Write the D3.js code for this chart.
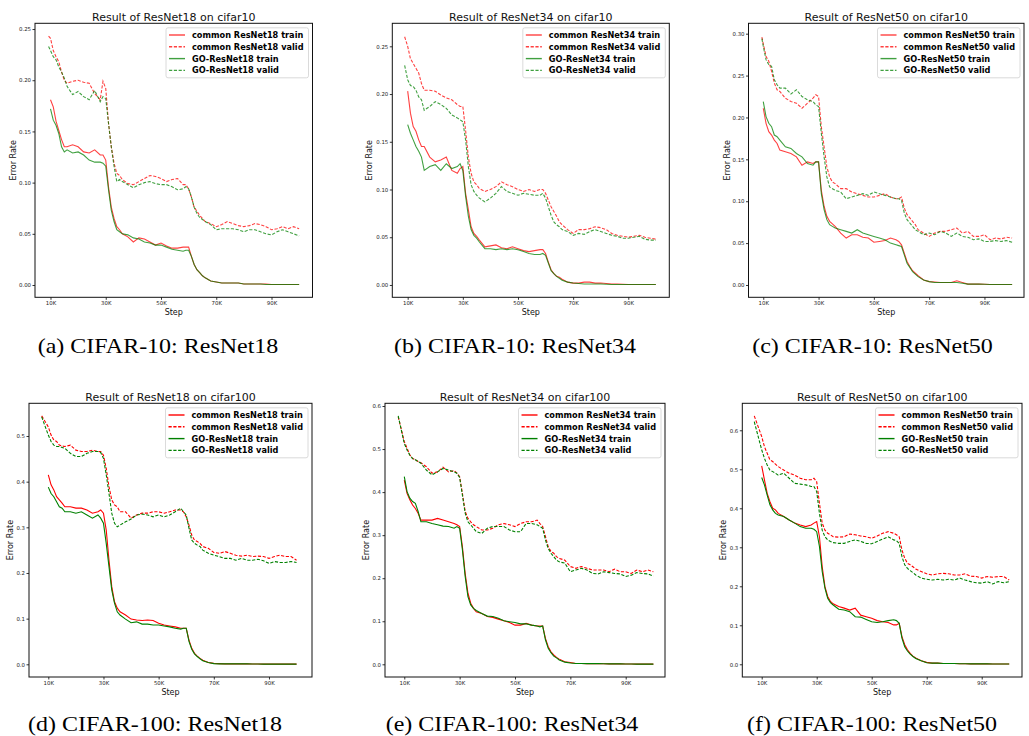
<!DOCTYPE html>
<html><head><meta charset="utf-8">
<script src="https://cdn.jsdelivr.net/npm/d3@7"></script>
<style>body{margin:0;background:#fff}svg{display:block}</style>
</head><body>
<svg id="chart" width="1029" height="736"></svg>
<script>
// ---------- data ----------
const STEPS = [10,11,12,13,14,15,16, 18,20,22,24,26,28, 29,30, 31,32,33,34,35,36,
  38,40,42,44,46,48,50,52,54,56,58, 59,60, 61,62,63,64,65,66,
  68,70,72,74,76,78,80,82,84,86,88,90,92,94,96,98,100];           // thousands of steps
const VALID_START = [9.3, 8.9, 9.5, 7.6, 7.8, 7.3];                  // first validation step (K)
const X_TICKS = [10,30,50,70,90];
const X_TICK_LABELS = ["10K","30K","50K","70K","90K"];
const MODELS = ["ResNet18","ResNet34","ResNet50","ResNet18","ResNet34","ResNet50"];
const DATASETS = ["cifar10","cifar10","cifar10","cifar100","cifar100","cifar100"];
const CAPTIONS = ["(a) CIFAR-10: ResNet18","(b) CIFAR-10: ResNet34","(c) CIFAR-10: ResNet50",
  "(d) CIFAR-100: ResNet18","(e) CIFAR-100: ResNet34","(f) CIFAR-100: ResNet50"];
const Y_TICKS_SMALL = [0,0.05,0.10,0.15,0.20,0.25];
const Y_TICKS_C = [0,0.05,0.10,0.15,0.20,0.25,0.30];
const Y_TICKS_D = [0,0.1,0.2,0.3,0.4,0.5];
const Y_TICKS_EF = [0,0.1,0.2,0.3,0.4,0.5,0.6];

// (a) CIFAR-10 ResNet18
const aCommonTrain = [0.181,0.174,0.160,0.151,0.142,0.135,0.135, 0.137,0.135,0.130,0.129,0.132,0.127, 0.127,0.122,
  0.096,0.076,0.065,0.057,0.054,0.050, 0.047,0.042,0.046,0.045,0.042,0.039,0.041,0.038,0.036,0.036,0.037, 0.037,0.037,
  0.028,0.020,0.015,0.012,0.009,0.007, 0.004,0.003,0.002,0.002,0.002,0.002,0.001,0.001,0.001,0.001,0.001,0.0005,0.0005,0.0005,0.0005,0.0005,0.0005];
const aCommonValid = [0.243, 0.241,0.229,0.223,0.218,0.208,0.200,0.197, 0.199,0.200,0.198,0.197,0.187,0.181, 0.199,0.192,
  0.158,0.135,0.119,0.109,0.107,0.103, 0.099,0.098,0.101,0.104,0.107,0.106,0.104,0.101,0.103,0.104,0.098, 0.098,0.094,
  0.086,0.076,0.072,0.068,0.065,0.062, 0.060,0.057,0.059,0.062,0.060,0.058,0.057,0.058,0.060,0.059,0.057,0.054,0.055,0.057,0.055,0.057,0.055];
const aGoTrain = [0.172,0.161,0.156,0.148,0.135,0.130,0.132, 0.129,0.130,0.127,0.122,0.120,0.120, 0.119,0.116,
  0.093,0.073,0.062,0.054,0.052,0.050, 0.049,0.046,0.045,0.042,0.041,0.039,0.039,0.037,0.035,0.034,0.033, 0.034,0.034,
  0.028,0.020,0.015,0.012,0.009,0.007, 0.004,0.003,0.002,0.002,0.002,0.002,0.001,0.001,0.001,0.001,0.0005,0.0005,0.0005,0.0005,0.0005,0.0005,0.0005];
const aGoValid = [0.233, 0.229,0.223,0.220,0.213,0.208,0.202,0.194, 0.186,0.189,0.184,0.181,0.190,0.179, 0.184,0.182,
  0.158,0.135,0.116,0.101,0.103,0.101, 0.098,0.095,0.098,0.100,0.101,0.099,0.098,0.098,0.096,0.093,0.094, 0.096,0.094,
  0.086,0.076,0.070,0.066,0.064,0.062, 0.059,0.054,0.055,0.055,0.055,0.054,0.052,0.054,0.054,0.052,0.050,0.049,0.052,0.054,0.052,0.050,0.048];

// (b) CIFAR-10 ResNet34
const bCommonTrain = [0.203,0.180,0.166,0.161,0.152,0.145,0.145, 0.134,0.129,0.131,0.134,0.120,0.117, 0.122,0.124,
  0.096,0.079,0.061,0.054,0.051,0.047, 0.040,0.041,0.042,0.039,0.038,0.040,0.038,0.036,0.035,0.036,0.037, 0.037,0.033,
  0.024,0.016,0.012,0.009,0.008,0.006, 0.003,0.002,0.002,0.003,0.003,0.002,0.002,0.0015,0.001,0.001,0.0008,0.0005,0.0005,0.0005,0.0005,0.0005,0.0005];
const bCommonValid = [0.260, 0.250,0.237,0.232,0.227,0.222,0.211,0.204, 0.204,0.203,0.199,0.196,0.194,0.189, 0.187,0.187,
  0.162,0.134,0.117,0.108,0.105,0.101, 0.098,0.100,0.103,0.108,0.105,0.103,0.100,0.098,0.100,0.098,0.100, 0.100,0.096,
  0.089,0.082,0.077,0.072,0.066,0.063, 0.058,0.054,0.058,0.058,0.059,0.061,0.060,0.058,0.054,0.052,0.051,0.050,0.051,0.052,0.050,0.049,0.048];
const bGoTrain = [0.168,0.159,0.152,0.145,0.140,0.134,0.120, 0.124,0.126,0.120,0.127,0.122,0.124, 0.127,0.120,
  0.093,0.072,0.058,0.052,0.049,0.045, 0.038,0.038,0.037,0.038,0.037,0.038,0.037,0.035,0.033,0.032,0.032, 0.033,0.031,
  0.023,0.015,0.012,0.009,0.007,0.005, 0.003,0.002,0.0015,0.001,0.001,0.001,0.001,0.0008,0.0005,0.0005,0.0005,0.0005,0.0005,0.0005,0.0005,0.0005,0.0005];
const bGoValid = [0.230, 0.215,0.209,0.208,0.204,0.197,0.194,0.183, 0.187,0.192,0.189,0.185,0.178,0.175, 0.173,0.171,
  0.152,0.124,0.105,0.098,0.094,0.091, 0.087,0.091,0.096,0.103,0.098,0.096,0.094,0.096,0.095,0.094,0.094, 0.096,0.091,
  0.082,0.073,0.066,0.063,0.061,0.058, 0.056,0.052,0.054,0.053,0.056,0.058,0.056,0.054,0.052,0.051,0.049,0.049,0.050,0.051,0.048,0.047,0.047];

// (c) CIFAR-10 ResNet50
const cCommonTrain = [0.211,0.193,0.183,0.179,0.173,0.169,0.161, 0.159,0.157,0.153,0.143,0.147,0.145, 0.147,0.147,
  0.113,0.094,0.082,0.076,0.073,0.070, 0.062,0.056,0.060,0.060,0.057,0.056,0.051,0.052,0.053,0.056,0.054, 0.052,0.048,
  0.038,0.028,0.022,0.017,0.014,0.011, 0.006,0.004,0.0036,0.003,0.003,0.003,0.005,0.003,0.001,0.001,0.001,0.0008,0.0006,0.0005,0.0005,0.0005,0.0005];
const cCommonValid = [0.296, 0.288,0.273,0.267,0.255,0.241,0.233,0.231, 0.223,0.219,0.217,0.211,0.217,0.223, 0.227,0.225,
  0.189,0.165,0.141,0.129,0.123,0.121, 0.115,0.115,0.111,0.109,0.107,0.105,0.105,0.107,0.109,0.105,0.103, 0.103,0.105,
  0.092,0.084,0.080,0.076,0.072,0.066, 0.062,0.058,0.062,0.064,0.064,0.066,0.068,0.062,0.064,0.058,0.058,0.060,0.054,0.056,0.055,0.057,0.056];
const cGoTrain = [0.219,0.201,0.193,0.189,0.179,0.177,0.173, 0.165,0.163,0.157,0.153,0.145,0.143, 0.147,0.147,
  0.109,0.090,0.078,0.072,0.070,0.068, 0.066,0.064,0.062,0.066,0.062,0.060,0.058,0.056,0.054,0.050,0.048, 0.047,0.046,
  0.036,0.026,0.021,0.016,0.013,0.010, 0.006,0.004,0.003,0.003,0.003,0.003,0.003,0.002,0.001,0.001,0.001,0.0008,0.0006,0.0005,0.0005,0.0005,0.0005];
const cGoValid = [0.294, 0.285,0.269,0.263,0.261,0.245,0.239,0.235, 0.235,0.228,0.233,0.225,0.221,0.219, 0.215,0.213,
  0.181,0.153,0.129,0.117,0.115,0.113, 0.111,0.103,0.105,0.107,0.109,0.107,0.111,0.109,0.107,0.105,0.103, 0.103,0.101,
  0.086,0.078,0.074,0.070,0.066,0.064, 0.060,0.062,0.060,0.064,0.062,0.058,0.062,0.058,0.057,0.054,0.055,0.052,0.052,0.053,0.052,0.053,0.051];

// (d) CIFAR-100 ResNet18
const dCommonTrain = [0.415,0.393,0.382,0.367,0.360,0.353,0.345, 0.345,0.342,0.342,0.338,0.331,0.334, 0.338,0.331,
  0.294,0.228,0.170,0.137,0.123,0.115, 0.108,0.099,0.097,0.096,0.097,0.096,0.090,0.086,0.084,0.082,0.079, 0.079,0.079,
  0.053,0.035,0.024,0.018,0.013,0.009, 0.004,0.002,0.0015,0.001,0.001,0.001,0.001,0.001,0.0008,0.0006,0.0005,0.0005,0.0005,0.0005,0.0005,0.0005,0.0005];
const dCommonValid = [0.544, 0.520,0.502,0.491,0.488,0.480,0.478,0.477, 0.480,0.469,0.466,0.466,0.469,0.466, 0.466,0.458,
  0.429,0.389,0.360,0.349,0.345,0.334, 0.334,0.320,0.327,0.331,0.331,0.334,0.334,0.331,0.334,0.338,0.338, 0.334,0.323,
  0.305,0.283,0.272,0.269,0.265,0.258, 0.254,0.245,0.243,0.247,0.243,0.239,0.237,0.239,0.236,0.237,0.236,0.232,0.236,0.239,0.236,0.236,0.228];
const dGoTrain = [0.388,0.374,0.367,0.356,0.345,0.342,0.334, 0.334,0.331,0.334,0.327,0.320,0.327, 0.320,0.309,
  0.265,0.214,0.163,0.134,0.115,0.108, 0.099,0.091,0.093,0.088,0.088,0.086,0.086,0.084,0.082,0.079,0.077, 0.079,0.079,
  0.050,0.033,0.023,0.017,0.012,0.008, 0.004,0.0015,0.001,0.001,0.001,0.001,0.001,0.001,0.0008,0.0006,0.0005,0.0005,0.0005,0.0005,0.0005,0.0005,0.0005];
const dGoValid = [0.542, 0.502,0.488,0.480,0.477,0.477,0.475,0.473, 0.462,0.455,0.455,0.462,0.466,0.466, 0.464,0.451,
  0.415,0.374,0.331,0.309,0.301,0.305, 0.312,0.318,0.327,0.329,0.327,0.323,0.327,0.323,0.327,0.334,0.342, 0.334,0.327,
  0.298,0.272,0.265,0.261,0.258,0.250, 0.243,0.239,0.236,0.232,0.232,0.228,0.232,0.228,0.228,0.230,0.227,0.221,0.225,0.223,0.223,0.225,0.223];

// (e) CIFAR-100 ResNet34
const eCommonTrain = [0.428,0.397,0.382,0.370,0.362,0.351,0.335, 0.335,0.335,0.339,0.335,0.331,0.327, 0.324,0.320,
  0.273,0.211,0.165,0.142,0.130,0.122, 0.118,0.111,0.109,0.105,0.101,0.097,0.091,0.091,0.095,0.091,0.089, 0.089,0.089,
  0.060,0.041,0.029,0.022,0.016,0.012, 0.006,0.004,0.002,0.002,0.0015,0.0015,0.0015,0.0012,0.001,0.001,0.001,0.0008,0.0006,0.0005,0.0005,0.0005,0.0005];
const eCommonValid = [0.575, 0.517,0.502,0.486,0.478,0.475,0.471,0.468, 0.459,0.444,0.447,0.458,0.447,0.450, 0.444,0.436,
  0.397,0.355,0.339,0.331,0.324,0.320, 0.312,0.312,0.316,0.324,0.327,0.324,0.320,0.327,0.331,0.331,0.335, 0.327,0.320,
  0.297,0.273,0.262,0.258,0.250,0.246, 0.242,0.227,0.223,0.227,0.223,0.219,0.219,0.219,0.215,0.221,0.215,0.215,0.211,0.219,0.215,0.219,0.215];
const eGoTrain = [0.436,0.401,0.386,0.378,0.374,0.355,0.331, 0.331,0.327,0.324,0.321,0.320,0.316, 0.320,0.316,
  0.266,0.204,0.157,0.138,0.130,0.125, 0.118,0.112,0.111,0.107,0.101,0.099,0.097,0.094,0.094,0.091,0.089, 0.087,0.089,
  0.057,0.037,0.027,0.019,0.015,0.010, 0.005,0.003,0.002,0.002,0.0015,0.0015,0.0015,0.0012,0.001,0.001,0.001,0.0008,0.0006,0.0005,0.0005,0.0005,0.0005];
const eGoValid = [0.577, 0.513,0.498,0.486,0.478,0.475,0.471,0.467, 0.451,0.440,0.447,0.455,0.451,0.447, 0.444,0.434,
  0.393,0.351,0.331,0.324,0.316,0.308, 0.304,0.316,0.320,0.320,0.320,0.312,0.308,0.308,0.327,0.327,0.324, 0.320,0.316,
  0.289,0.269,0.258,0.250,0.242,0.238, 0.235,0.215,0.219,0.223,0.219,0.211,0.210,0.215,0.213,0.211,0.210,0.204,0.207,0.213,0.211,0.210,0.205];

// (f) CIFAR-100 ResNet50
const fCommonTrain = [0.509,0.473,0.438,0.417,0.400,0.396,0.387, 0.379,0.370,0.362,0.357,0.353,0.357, 0.362,0.366,
  0.327,0.250,0.199,0.174,0.161,0.155, 0.148,0.144,0.139,0.144,0.126,0.122,0.118,0.112,0.109,0.107,0.101, 0.101,0.105,
  0.071,0.050,0.037,0.028,0.021,0.016, 0.009,0.005,0.003,0.003,0.002,0.002,0.002,0.0015,0.0015,0.001,0.001,0.001,0.001,0.0008,0.0008,0.0008,0.0008];
const fCommonValid = [0.637, 0.584,0.558,0.541,0.524,0.520,0.513,0.507, 0.498,0.490,0.485,0.477,0.473,0.473, 0.477,0.468,
  0.413,0.362,0.344,0.336,0.332,0.327, 0.326,0.327,0.334,0.332,0.329,0.327,0.323,0.329,0.336,0.340,0.336, 0.332,0.327,
  0.293,0.272,0.259,0.255,0.250,0.244, 0.238,0.232,0.229,0.232,0.233,0.232,0.229,0.229,0.232,0.226,0.225,0.221,0.225,0.223,0.225,0.225,0.216];
const fGoTrain = [0.479,0.460,0.434,0.409,0.396,0.387,0.383, 0.379,0.370,0.362,0.353,0.349,0.349, 0.346,0.340,
  0.302,0.238,0.195,0.169,0.158,0.152, 0.141,0.139,0.135,0.122,0.121,0.115,0.109,0.107,0.109,0.112,0.114, 0.112,0.105,
  0.067,0.045,0.034,0.026,0.020,0.015, 0.009,0.004,0.003,0.003,0.002,0.002,0.002,0.0015,0.0015,0.001,0.001,0.001,0.001,0.0008,0.0008,0.0008,0.0008];
const fGoValid = [0.622, 0.550,0.528,0.511,0.498,0.494,0.490,0.485, 0.490,0.477,0.464,0.462,0.460,0.456, 0.456,0.443,
  0.387,0.344,0.327,0.319,0.315,0.312, 0.310,0.310,0.315,0.319,0.315,0.310,0.309,0.315,0.321,0.327,0.319, 0.317,0.310,
  0.276,0.255,0.246,0.240,0.235,0.229, 0.221,0.218,0.216,0.218,0.216,0.218,0.216,0.221,0.216,0.212,0.209,0.208,0.212,0.206,0.212,0.209,0.212];

// ---------- layout (pixels / axis limits) ----------
const PANELS = [
  {ct:aCommonTrain, cv:aCommonValid, gt:aGoTrain, gv:aGoValid, yt:Y_TICKS_SMALL, fmt:".2f",
   l:35, r:312.5, t:23.3, b:297.3, xlim:[4.39,104.84], ylim:[-0.0120,0.2556], ylabX:13.5, capX:158, alpha:0.75},
  {ct:bCommonTrain, cv:bCommonValid, gt:bGoTrain, gv:bGoValid, yt:Y_TICKS_SMALL, fmt:".2f",
   l:392.3, r:669.3, t:23.3, b:297.3, xlim:[4.42,104.87], ylim:[-0.0129,0.2741], ylabX:369.5, capX:515, alpha:0.75},
  {ct:cCommonTrain, cv:cCommonValid, gt:cGoTrain, gv:cGoValid, yt:Y_TICKS_C, fmt:".2f",
   l:748.5, r:1024, t:23.3, b:297.3, xlim:[4.66,104.3], ylim:[-0.0147,0.3124], ylabX:727, capX:872.5, alpha:0.75},
  {ct:dCommonTrain, cv:dCommonValid, gt:dGoTrain, gv:dGoValid, yt:Y_TICKS_D, fmt:".1f",
   l:29, r:312, t:403.3, b:677, xlim:[3.0,105.6], ylim:[-0.0278,0.5716], ylabX:10, capX:155, alpha:1},
  {ct:eCommonTrain, cv:eCommonValid, gt:eGoTrain, gv:eGoValid, yt:Y_TICKS_EF, fmt:".1f",
   l:385, r:665, t:403.3, b:677, xlim:[3.03,104.2], ylim:[-0.0295,0.6063], ylabX:366, capX:512, alpha:1},
  {ct:fCommonTrain, cv:fCommonValid, gt:fGoTrain, gv:fGoValid, yt:Y_TICKS_EF, fmt:".1f",
   l:742.3, r:1022, t:403.3, b:677, xlim:[2.95,104.65], ylim:[-0.0326,0.6692], ylabX:723.5, capX:872, alpha:1}
];
const ROW_TEXT = [{title:20.5, step:315, cap:353.3}, {title:400.5, step:695, cap:730.5}];
const RED = "#ff0000", GREEN = "#008000";

const svg = d3.select("#chart");
svg.append("rect").attr("width",1029).attr("height",736).attr("fill","#fff");

PANELS.forEach((p, i) => {
  const row = ROW_TEXT[i < 3 ? 0 : 1];
  const x = d3.scaleLinear().domain(p.xlim).range([p.l, p.r]);
  const y = d3.scaleLinear().domain(p.ylim).range([p.b, p.t]);
  const g = svg.append("g");
  const clipId = "clip" + i;
  g.append("clipPath").attr("id", clipId).append("rect")
    .attr("x", p.l).attr("y", p.t).attr("width", p.r - p.l).attr("height", p.b - p.t);

  const line = d3.line().defined(d => d[1] != null).x(d => x(d[0])).y(d => y(d[1]));
  const trainPts = v => STEPS.map((s, k) => [s, v[k]]);
  const validPts = v => [VALID_START[i]].concat(STEPS).map((s, k) => [s, v[k]]);
  const series = [
    {pts: trainPts(p.ct), color: RED, dash: null, name: "common " + MODELS[i] + " train"},
    {pts: validPts(p.cv), color: RED, dash: "3.2,1.6", name: "common " + MODELS[i] + " valid"},
    {pts: trainPts(p.gt), color: GREEN, dash: null, name: "GO-" + MODELS[i] + " train"},
    {pts: validPts(p.gv), color: GREEN, dash: "3.2,1.6", name: "GO-" + MODELS[i] + " valid"}
  ];
  const plot = g.append("g").attr("clip-path", `url(#${clipId})`);
  series.forEach(s => {
    plot.append("path").datum(s.pts).attr("d", line)
      .attr("fill", "none").attr("stroke", s.color).attr("stroke-width", 1.1)
      .attr("stroke-opacity", p.alpha)
      .attr("stroke-dasharray", s.dash);
  });

  // axes
  const fmt = d3.format(p.fmt);
  const xa = g.append("g").attr("transform", `translate(0,${p.b})`)
    .call(d3.axisBottom(x).tickValues(X_TICKS).tickFormat((d, k) => X_TICK_LABELS[k])
      .tickSize(2.5).tickPadding(1.5).tickSizeOuter(0));
  const ya = g.append("g").attr("transform", `translate(${p.l},0)`)
    .call(d3.axisLeft(y).tickValues(p.yt).tickFormat(fmt).tickSize(2.5).tickPadding(1.5).tickSizeOuter(0));
  [xa, ya].forEach(a => {
    a.select(".domain").remove();
    a.selectAll("line").attr("stroke", "#000").attr("stroke-width", 0.8);
    a.selectAll("text").attr("font-family", "DejaVu Sans").attr("font-size", 5.4).attr("fill", "#222");
  });
  g.append("rect").attr("x", p.l).attr("y", p.t).attr("width", p.r - p.l).attr("height", p.b - p.t)
    .attr("fill", "none").attr("stroke", "#111").attr("stroke-width", 1);

  // texts
  g.append("text").attr("x", (p.l + p.r) / 2).attr("y", row.title).attr("text-anchor", "middle")
    .attr("font-family", "DejaVu Sans").attr("font-size", 11).attr("fill", "#111")
    .text(`Result of ${MODELS[i]} on ${DATASETS[i]}`);
  g.append("text").attr("transform", `translate(${p.ylabX},${(p.t + p.b) / 2}) rotate(-90)`)
    .attr("text-anchor", "middle").attr("dominant-baseline", "central")
    .attr("font-family", "DejaVu Sans").attr("font-size", 8).attr("fill", "#111").text("Error Rate");
  g.append("text").attr("x", (p.l + p.r) / 2).attr("y", row.step).attr("text-anchor", "middle")
    .attr("font-family", "DejaVu Sans").attr("font-size", 8).attr("fill", "#111").text("Step");
  g.append("text").attr("transform", `translate(${p.capX},${row.cap}) scale(1.2,1)`)
    .attr("text-anchor", "middle").attr("font-family", "Liberation Serif").attr("font-size", 20)
    .attr("fill", "#000").text(CAPTIONS[i]);

  // legend
  const lg = g.append("g");
  const box = lg.append("rect");
  const texts = series.map((s, k) => lg.append("text").attr("y", 7.2 + k * 11.8).attr("dominant-baseline", "central")
    .attr("font-family", "DejaVu Sans").attr("font-weight", "bold").attr("font-size", 8.2).attr("fill", "#000").text(s.name));
  const tw = d3.max(texts, t => t.node().getComputedTextLength());
  const lw = 26 + tw + 5, lh = 50;
  const lx = p.r - 4 - lw, ly = p.t + 4.5;
  lg.attr("transform", `translate(${lx},${ly})`);
  box.attr("x", 0).attr("y", 0).attr("width", lw).attr("height", lh).attr("rx", 2)
    .attr("fill", "#fff").attr("fill-opacity", 0.8).attr("stroke", "#d0d0d0").attr("stroke-width", 0.8);
  texts.forEach(t => t.attr("x", 26));
  series.forEach((s, k) => {
    lg.append("line").attr("x1", 3).attr("x2", 19).attr("y1", 7.2 + k * 11.8).attr("y2", 7.2 + k * 11.8)
      .attr("stroke", s.color).attr("stroke-width", 1.4).attr("stroke-opacity", p.alpha)
      .attr("stroke-dasharray", s.dash);
  });
});
</script>
</body></html>
